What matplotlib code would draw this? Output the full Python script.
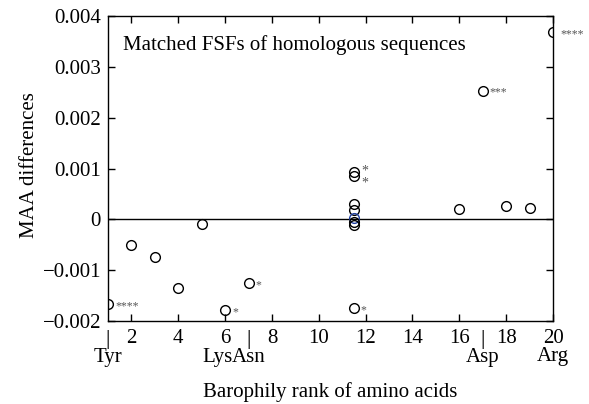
import matplotlib
matplotlib.use("Agg")
import matplotlib.pyplot as plt
from matplotlib.ticker import FuncFormatter

plt.rcParams["font.family"] = ["Liberation Serif", "DejaVu Serif"]

# rank of amino acid and MAA difference per matched FSF
ranks = [1, 2, 3, 4, 5, 6, 7, 11.5, 11.5, 11.5, 11.5, 11.5, 11.5, 11.5,
         11.5, 16, 17, 18, 19, 20]
maa_diff = [-0.00167, -0.00051, -0.00075, -0.00135, -0.00009, -0.00179,
            -0.00125, -0.00175, 0.00093, 0.00086, 0.00031, 0.00018,
            0.00002, -0.00005, -0.00012, 0.00020, 0.00253, 0.00027,
            0.00022, 0.00368]
edge_colors = ["black"] * len(ranks)
edge_colors[12] = "#2040a0"

# significance stars next to some points
star_idx = [0, 5, 6, 7, 16, 19]
star_text = ["****", "*", "*", "*", "***", "****"]
pair_star_x = 11.5
pair_star_y = [0.00100, 0.00076]

xtick_pos = [2, 4, 6, 8, 10, 12, 14, 16, 18, 20]
yticks = [-0.002, -0.001, 0, 0.001, 0.002, 0.003, 0.004]
bar_pos = [1, 7, 17]
aa_names = ["Tyr", "Lys", "Asn", "Asp", "Arg"]
aa_pos = [1, 6.33, 7, 17, 20]
aa_ha = ["center", "right", "center", "center", "center"]

fig = plt.figure(figsize=(5.89, 4.04), dpi=100)
ax = fig.add_axes([0.1834, 0.2054, 0.7555, 0.755])

ax.axhline(0, color="black", lw=1.0, zorder=1)
for x, y, ec in zip(ranks, maa_diff, edge_colors):
    ax.plot(x, y, "o", ms=7, mfc="none", mec=ec, mew=1.0, zorder=3)

for i, s in zip(star_idx, star_text):
    ax.annotate(s, (ranks[i], maa_diff[i]), xytext=(5, -1.5),
                textcoords="offset points", ha="left", va="center",
                fontsize=8.5, color="#555555")
for y in pair_star_y:
    ax.annotate("*", (pair_star_x, y), xytext=(5, -2),
                textcoords="offset points", ha="left", va="center",
                fontsize=10, color="#555555")

ax.set_xlim(1, 20)
ax.set_ylim(-0.002, 0.004)
ax.set_xticks(xtick_pos)
ax.set_yticks(yticks)
ax.yaxis.set_major_formatter(FuncFormatter(
    lambda v, p: "0" if abs(v) < 1e-12 else f"{v:.3f}".replace("-", "\u2212")))
ax.tick_params(direction="in", top=True, right=True, length=5, width=1,
               labelsize=15)
ax.tick_params(axis="x", pad=6)
ax.tick_params(axis="y", pad=5)
for sp in ax.spines.values():
    sp.set_linewidth(1.0)

for x in bar_pos:
    ax.text(x, -0.00236, "|", ha="center", va="center", fontsize=16)
for name, x, ha in zip(aa_names, aa_pos, aa_ha):
    y = -0.00272 if name != "Arg" else -0.00269
    ax.text(x, y, name, ha=ha, va="center", fontsize=15)

ax.text(0.034, 0.905, "Matched FSFs of homologous sequences",
        transform=ax.transAxes, ha="left", va="center", fontsize=15)

fig.text(0.561, 1 - 392 / 404, "Barophily rank of amino acids",
         ha="center", va="center", fontsize=15)
fig.text(30 / 589, 1 - 165 / 404, "MAA differences", rotation=90,
         ha="center", va="center", fontsize=15)

fig.savefig("out.png", dpi=100)
